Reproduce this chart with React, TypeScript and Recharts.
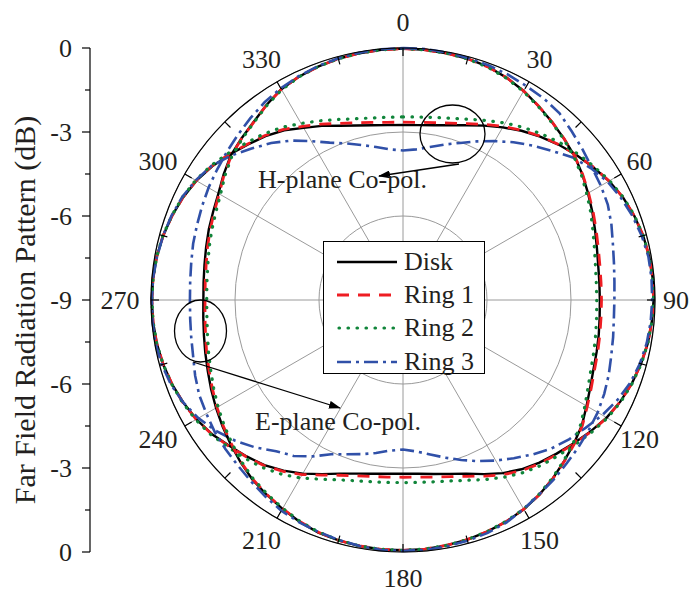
import React from "react";
import {
  RadarChart,
  Radar,
  PolarGrid,
  PolarAngleAxis,
  PolarRadiusAxis,
  Legend,
  LineChart,
  Line,
  YAxis,
} from "recharts";

const W = 692;
const H = 594;
const FONT = '"Liberation Serif", "Times New Roman", serif';
const INK = "#231f20";

// angle in degrees, clockwise from top
const angles = [
  0, 5, 10, 15, 20, 25, 30, 35, 40, 45, 50, 55, 60, 65, 70, 75, 80, 85,
  90, 95, 100, 105, 110, 115, 120, 125, 130, 135, 140, 145, 150, 155, 160, 165, 170, 175,
  180, 185, 190, 195, 200, 205, 210, 215, 220, 225, 230, 235, 240, 245, 250, 255, 260, 265,
  270, 275, 280, 285, 290, 295, 300, 305, 310, 315, 320, 325, 330, 335, 340, 345, 350, 355,
];

// H-plane co-pol (dB)
const diskH = [
  -2.75, -2.73, -2.66, -2.54, -2.36, -2.13, -1.88, -1.62, -1.38, -1.15, -0.93, -0.72, -0.5, -0.33, -0.21, -0.12, -0.07, -0.05,
  -0.05, -0.08, -0.12, -0.2, -0.3, -0.43, -0.6, -0.82, -1.04, -1.24, -1.42, -1.62, -1.86, -2.14, -2.4, -2.57, -2.69, -2.77,
  -2.8, -2.77, -2.7, -2.58, -2.4, -2.14, -1.84, -1.56, -1.3, -1.1, -0.9, -0.66, -0.48, -0.34, -0.22, -0.13, -0.07, -0.04,
  -0.03, -0.04, -0.07, -0.13, -0.22, -0.33, -0.48, -0.68, -0.92, -1.15, -1.36, -1.6, -1.9, -2.14, -2.38, -2.55, -2.66, -2.73,
];
const ring1H = [
  -2.65, -2.63, -2.57, -2.46, -2.3, -2.08, -1.84, -1.6, -1.36, -1.14, -0.92, -0.71, -0.5, -0.33, -0.21, -0.12, -0.07, -0.05,
  -0.05, -0.08, -0.12, -0.2, -0.3, -0.43, -0.59, -0.8, -1.02, -1.21, -1.38, -1.57, -1.8, -2.06, -2.3, -2.47, -2.58, -2.65,
  -2.67, -2.65, -2.6, -2.5, -2.34, -2.1, -1.8, -1.53, -1.28, -1.08, -0.88, -0.65, -0.47, -0.33, -0.22, -0.13, -0.07, -0.04,
  -0.03, -0.04, -0.07, -0.13, -0.22, -0.33, -0.47, -0.66, -0.9, -1.13, -1.33, -1.56, -1.84, -2.07, -2.29, -2.45, -2.56, -2.63,
];
const ring2H = [
  -2.46, -2.44, -2.38, -2.28, -2.13, -1.93, -1.7, -1.48, -1.27, -1.06, -0.87, -0.68, -0.48, -0.32, -0.2, -0.12, -0.07, -0.05,
  -0.05, -0.08, -0.12, -0.19, -0.29, -0.41, -0.57, -0.77, -0.97, -1.15, -1.3, -1.48, -1.7, -1.93, -2.15, -2.31, -2.41, -2.46,
  -2.48, -2.46, -2.41, -2.32, -2.17, -1.94, -1.66, -1.41, -1.19, -1.01, -0.84, -0.62, -0.45, -0.32, -0.21, -0.13, -0.07, -0.04,
  -0.03, -0.04, -0.07, -0.12, -0.21, -0.31, -0.45, -0.63, -0.85, -1.07, -1.26, -1.47, -1.72, -1.94, -2.14, -2.3, -2.4, -2.45,
];
const ring3H = [
  -3.66, -3.6, -3.45, -3.25, -3.03, -2.75, -2.45, -2.12, -1.8, -1.47, -1.08, -0.8, -0.56, -0.4, -0.27, -0.17, -0.1, -0.09,
  -0.1, -0.12, -0.16, -0.24, -0.36, -0.55, -0.78, -1.04, -1.26, -1.5, -1.8, -2.1, -2.38, -2.65, -2.92, -3.17, -3.4, -3.57,
  -3.66, -3.6, -3.45, -3.3, -3.14, -2.92, -2.55, -2.2, -1.95, -1.55, -1.18, -0.85, -0.56, -0.34, -0.18, -0.08, -0.03, -0.02,
  -0.03, -0.04, -0.08, -0.13, -0.2, -0.3, -0.45, -0.65, -0.98, -1.35, -1.68, -2.05, -2.45, -2.8, -3.05, -3.27, -3.45, -3.6,
];

// E-plane co-pol (dB)
const diskE = [
  -0.02, -0.03, -0.05, -0.08, -0.13, -0.24, -0.38, -0.55, -0.71, -0.86, -1.0, -1.18, -1.37, -1.54, -1.7, -1.83, -1.92, -1.96,
  -1.97, -1.95, -1.9, -1.84, -1.76, -1.62, -1.43, -1.2, -1.03, -0.86, -0.68, -0.51, -0.37, -0.27, -0.2, -0.14, -0.1, -0.07,
  -0.06, -0.06, -0.08, -0.11, -0.16, -0.26, -0.39, -0.51, -0.63, -0.8, -0.97, -1.13, -1.29, -1.44, -1.58, -1.69, -1.78, -1.84,
  -1.87, -1.85, -1.8, -1.72, -1.62, -1.52, -1.39, -1.18, -0.97, -0.84, -0.7, -0.5, -0.31, -0.2, -0.13, -0.08, -0.05, -0.03,
];
const ring1E = [
  -0.02, -0.03, -0.05, -0.08, -0.14, -0.24, -0.38, -0.55, -0.71, -0.86, -1.0, -1.17, -1.35, -1.51, -1.66, -1.78, -1.86, -1.9,
  -1.91, -1.9, -1.86, -1.8, -1.72, -1.58, -1.4, -1.18, -1.01, -0.85, -0.67, -0.51, -0.37, -0.27, -0.2, -0.14, -0.1, -0.07,
  -0.06, -0.06, -0.08, -0.11, -0.17, -0.27, -0.4, -0.52, -0.65, -0.82, -1.0, -1.16, -1.33, -1.49, -1.63, -1.74, -1.84, -1.9,
  -1.93, -1.91, -1.86, -1.77, -1.67, -1.56, -1.42, -1.2, -0.99, -0.85, -0.71, -0.5, -0.31, -0.2, -0.13, -0.08, -0.05, -0.03,
];
const ring2E = [
  -0.02, -0.03, -0.05, -0.09, -0.15, -0.26, -0.4, -0.57, -0.73, -0.88, -1.03, -1.22, -1.42, -1.6, -1.78, -1.92, -2.02, -2.07,
  -2.08, -2.06, -2.01, -1.94, -1.85, -1.7, -1.49, -1.25, -1.06, -0.88, -0.7, -0.53, -0.38, -0.28, -0.2, -0.14, -0.1, -0.07,
  -0.06, -0.06, -0.08, -0.12, -0.18, -0.28, -0.41, -0.54, -0.67, -0.84, -1.03, -1.2, -1.37, -1.54, -1.69, -1.81, -1.91, -1.97,
  -1.99, -1.97, -1.92, -1.83, -1.73, -1.62, -1.47, -1.24, -1.02, -0.87, -0.72, -0.52, -0.33, -0.21, -0.13, -0.08, -0.05, -0.03,
];
const ring3E = [
  0, 0, -0.02, -0.05, -0.08, -0.12, -0.18, -0.22, -0.3, -0.48, -0.63, -0.76, -0.84, -0.93, -1.08, -1.24, -1.35, -1.42,
  -1.45, -1.44, -1.38, -1.3, -1.18, -1.07, -0.97, -0.9, -0.82, -0.74, -0.63, -0.52, -0.38, -0.24, -0.15, -0.1, -0.06, -0.04,
  -0.04, -0.04, -0.08, -0.13, -0.18, -0.24, -0.31, -0.43, -0.55, -0.65, -0.72, -0.79, -0.89, -0.97, -1.1, -1.24, -1.32, -1.37,
  -1.39, -1.37, -1.32, -1.24, -1.17, -1.08, -0.98, -0.89, -0.78, -0.66, -0.52, -0.38, -0.27, -0.18, -0.11, -0.06, -0.03, -0.01,
];

const angleTicks = [0, 30, 60, 90, 120, 150, 180, 210, 240, 270, 300, 330];
const minorAngleTicks = [0, 15, 30, 45, 60, 75, 90, 105, 120, 135, 150, 165, 180, 195, 210, 225, 240, 255, 270, 285, 300, 315, 330, 345];
const radiusTicks = [-9, -6, -3, 0];
const minorRadiusTicks = [-9, -8, -7, -6, -5, -4, -3, -2, -1, 0];

// left axis: position from bottom, label text
const leftTicks = [0, 1.5, 3, 4.5, 6, 7.5, 9, 10.5, 12, 13.5, 15, 16.5, 18];
const leftLabels = ["0", "-3", "-6", "-9", "-6", "-3", "0"];

const SERIES = [
  { name: "Disk", h: "diskH", e: "diskE", color: "#000000", dash: undefined, width: 2.4, cap: "butt" },
  { name: "Ring 1", h: "ring1H", e: "ring1E", color: "#ee1d23", dash: "12 9", width: 2.8, cap: "butt" },
  { name: "Ring 2", h: "ring2H", e: "ring2E", color: "#10853a", dash: "0.5 8.5", width: 3.2, cap: "round" },
  { name: "Ring 3", h: "ring3H", e: "ring3E", color: "#3050a8", dash: "14 5 3 5", width: 2.6, cap: "butt" },
];

const rows = angles.map((angle, i) => ({
  angle,
  diskH: diskH[i],
  ring1H: ring1H[i],
  ring2H: ring2H[i],
  ring3H: ring3H[i],
  diskE: diskE[i],
  ring1E: ring1E[i],
  ring2E: ring2E[i],
  ring3E: ring3E[i],
}));

const leftRows = leftTicks.map((v) => ({ v }));

const AngleTick = (props: any) => {
  const a = (props.payload.value * Math.PI) / 180;
  // pull the side labels slightly left, like the original layout
  const dx = -5 * Math.abs(Math.sin(a));
  return (
    <text
      x={props.x + dx}
      y={props.y}
      textAnchor="middle"
      dominantBaseline="central"
      fontFamily={FONT}
      fontSize={26}
      fill={INK}
    >
      {props.payload.value}
    </text>
  );
};

const LeftTick = (props: any) => {
  const v = props.payload.value;
  const major = v % 3 === 0;
  return (
    <g>
      <line x1={props.x} x2={props.x - (major ? 8 : 5)} y1={props.y} y2={props.y} stroke="#000" strokeWidth={1.2} />
      {major && (
        <text
          x={props.x - 18}
          y={props.y}
          textAnchor="end"
          dominantBaseline="central"
          fontFamily={FONT}
          fontSize={26}
          fill={INK}
        >
          {leftLabels[v / 3]}
        </text>
      )}
    </g>
  );
};

const AxisTitle = (props: any) => {
  const vb = props.viewBox;
  const x = vb.x + 24;
  const y = vb.y + vb.height / 2 + 10;
  return (
    <text
      x={x}
      y={y}
      transform={`rotate(-90, ${x}, ${y})`}
      textAnchor="middle"
      dominantBaseline="central"
      fontFamily={FONT}
      fontSize={30}
      fill={INK}
    >
      Far Field Radiation Pattern (dB)
    </text>
  );
};

const LegendBox = () => (
  <div
    style={{
      width: 162,
      height: 133,
      boxSizing: "border-box",
      border: "1.3px solid #000",
      background: "#fff",
      paddingTop: 3,
    }}
  >
    {SERIES.map((s) => (
      <div key={s.name} style={{ display: "flex", alignItems: "center", height: 33.3 }}>
        <svg width={60} height={10} style={{ marginLeft: 13, display: "block" }}>
          <line
            x1={s.cap === "round" ? 2 : 0}
            x2={60}
            y1={5}
            y2={5}
            stroke={s.color}
            strokeWidth={s.width}
            strokeDasharray={s.dash}
            strokeLinecap={s.cap as any}
          />
        </svg>
        <span style={{ marginLeft: 7, fontFamily: FONT, fontSize: 26, lineHeight: "26px", color: INK }}>
          {s.name}
        </span>
      </div>
    ))}
  </div>
);

export default function App() {
  return (
    <div style={{ position: "absolute", left: 0, top: 0, width: W, height: H, background: "#fff" }}>
      <div style={{ position: "absolute", left: 0, top: 0 }}>
        <LineChart width={W} height={H} data={leftRows} margin={{ top: 48, bottom: 42, left: 0, right: 0 }}>
          <YAxis
            type="number"
            dataKey="v"
            domain={[0, 18]}
            ticks={leftTicks}
            interval={0}
            width={90}
            axisLine={{ stroke: "#000", strokeWidth: 1.2 }}
            tickLine={false}
            tickSize={0}
            tickMargin={0}
            tick={LeftTick}
            label={{ content: AxisTitle }}
          />
          <Line dataKey="v" stroke="none" dot={false} activeDot={false} legendType="none" isAnimationActive={false} />
        </LineChart>
      </div>

      <div style={{ position: "absolute", left: 0, top: 0 }}>
        <RadarChart
          width={W}
          height={H}
          data={rows}
          cx={403}
          cy={300}
          outerRadius={252}
          margin={{ top: 0, right: 0, bottom: 0, left: 0 }}
        >
          <PolarGrid
            angleAxisId="minor"
            radiusAxisId="minor"
            gridType="circle"
            stroke="#bdbdbd"
            strokeWidth={0.9}
            strokeDasharray="3 3"
          />
          <PolarGrid gridType="circle" stroke="#9a9a9a" strokeWidth={1} />
          <PolarAngleAxis
            dataKey="angle"
            type="number"
            domain={[0, 360]}
            ticks={angleTicks}
            axisLineType="circle"
            axisLine={{ stroke: "#000", strokeWidth: 1.2 }}
            tickLine={false}
            tickSize={26}
            tick={AngleTick}
          />
          <PolarAngleAxis
            angleAxisId="minor"
            dataKey="angle"
            type="number"
            domain={[0, 360]}
            ticks={minorAngleTicks}
            axisLine={false}
            tick={false}
            tickLine={{ stroke: "#000", strokeWidth: 1.2 }}
            orientation="inner"
            tickSize={8}
          />
          <PolarRadiusAxis type="number" domain={[-9, 0]} ticks={radiusTicks} tick={false} axisLine={false} />
          <PolarRadiusAxis
            radiusAxisId="minor"
            type="number"
            domain={[-9, 0]}
            ticks={minorRadiusTicks}
            tick={false}
            axisLine={false}
          />
          {SERIES.map((s) => (
            <Radar
              key={s.h}
              name={s.name}
              dataKey={s.h}
              stroke={s.color}
              strokeWidth={s.width}
              strokeDasharray={s.dash}
              strokeLinecap={s.cap as any}
              fill="none"
              fillOpacity={0}
              dot={false}
              activeDot={false}
              isAnimationActive={false}
            />
          ))}
          {SERIES.map((s) => (
            <Radar
              key={s.e}
              name={s.name + " E"}
              dataKey={s.e}
              stroke={s.color}
              strokeWidth={s.width}
              strokeDasharray={s.dash}
              strokeLinecap={s.cap as any}
              fill="none"
              fillOpacity={0}
              dot={false}
              activeDot={false}
              legendType="none"
              isAnimationActive={false}
            />
          ))}
          <Legend
            layout="vertical"
            align="center"
            verticalAlign="middle"
            content={LegendBox}
            wrapperStyle={{ position: "absolute", left: 323, top: 241, width: 162, height: 133 }}
          />
        </RadarChart>
      </div>

      <svg
        width={W}
        height={H}
        style={{ position: "absolute", left: 0, top: 0, pointerEvents: "none" }}
      >
        <defs>
          <marker id="arrow" viewBox="0 0 12 8" refX="11" refY="4" markerWidth="12" markerHeight="8" markerUnits="userSpaceOnUse" orient="auto">
            <path d="M0,0 L12,4 L0,8 z" fill="#000" />
          </marker>
        </defs>
        <ellipse cx={452.5} cy={134} rx={32.5} ry={29} fill="none" stroke="#000" strokeWidth={1.3} />
        <line x1={459} y1={164} x2={379} y2={176} stroke="#000" strokeWidth={1.3} markerEnd="url(#arrow)" />
        <text x={258} y={188} fontFamily={FONT} fontSize={26} fill={INK}>
          H-plane Co-pol.
        </text>
        <ellipse cx={200.5} cy={331} rx={26} ry={31} fill="none" stroke="#000" strokeWidth={1.3} />
        <line x1={193} y1={362} x2={340} y2={408} stroke="#000" strokeWidth={1.3} markerEnd="url(#arrow)" />
        <text x={255} y={430} fontFamily={FONT} fontSize={26} fill={INK}>
          E-plane Co-pol.
        </text>
      </svg>
    </div>
  );
}
